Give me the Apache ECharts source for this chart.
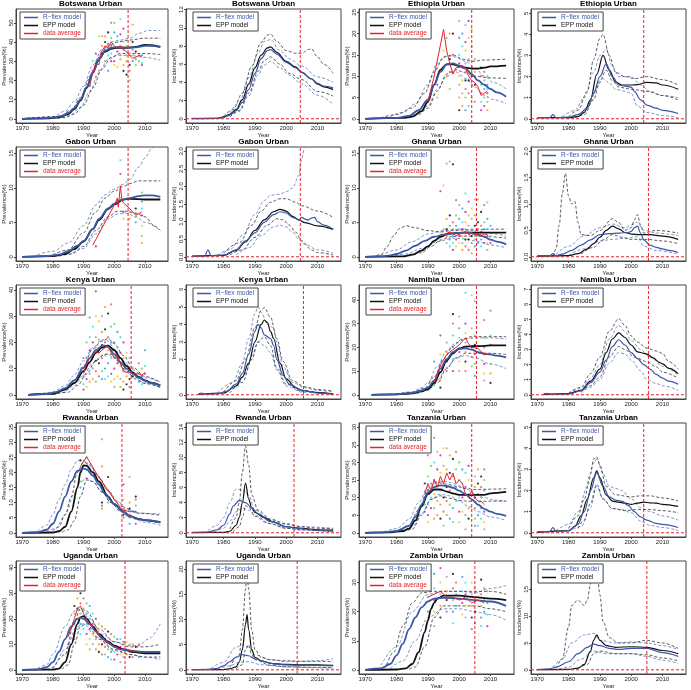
<!DOCTYPE html>
<html><head><meta charset="utf-8">
<script src="https://cdn.jsdelivr.net/npm/echarts@6/dist/echarts.min.js"></script>
<style>html,body{margin:0;padding:0;background:#fff}#c{width:691px;height:690px}</style>
</head><body><div id="c"></div>
<script>
// ---------------- panel descriptors ----------------
const panelTitles = ['Botswana Urban','Botswana Urban','Ethiopia Urban','Ethiopia Urban',
  'Gabon Urban','Gabon Urban','Ghana Urban','Ghana Urban',
  'Kenya Urban','Kenya Urban','Namibia Urban','Namibia Urban',
  'Rwanda Urban','Rwanda Urban','Tanzania Urban','Tanzania Urban',
  'Uganda Urban','Uganda Urban','Zambia Urban','Zambia Urban'];
const panelKinds = ['prev','inc','prev','inc','prev','inc','prev','inc','prev','inc',
  'prev','inc','prev','inc','prev','inc','prev','inc','prev','inc'];
const panelYRange = [55,11.6,24.8,5.0,15.3,3.0,15.3,2.0,40.3,6.0,44.5,7.0,35,14,30,5.0,41,20.8,36,19.5];
const panelYTicks = [
  ['0','10','20','30','40','50'], ['0','2','4','6','8','10','12'],
  ['0','5','10','15','20','25'], ['0','1','2','3','4','5'],
  ['0','5','10','15'], ['0.0','0.5','1.0','1.5','2.0','2.5','3.0'],
  ['0','5','10','15'], ['0.0','0.5','1.0','1.5','2.0'],
  ['0','10','20','30','40'], ['0','1','2','3','4','5','6'],
  ['0','10','20','30','40'], ['0','1','2','3','4','5','6','7'],
  ['0','5','10','15','20','25','30','35'], ['0','2','4','6','8','10','12','14'],
  ['0','5','10','15','20','25','30'], ['0','1','2','3','4','5'],
  ['0','10','20','30','40'], ['0','5','10','15','20'],
  ['0','10','20','30'], ['0','5','10','15']];
const panelVline = [2004.5,2004.5,2004,2004,2004.5,2004.5,2005.5,2005.5,2005.5,2005.5,
  2005.5,2005.5,2002.5,2002.5,2004,2004,2003.5,2003.5,2005,2005];
const xTickLabels = ['1970','1980','1990','2000','2010'];

// ---------------- Botswana ----------------
const bwPRflex = [[1970,0],[1976,0.2],[1980,0.6],[1983,1.5],[1985,3],[1987,5.5],[1989,10],[1991,16.5],[1993,24],[1995,31],[1997,35.5],[1999,37],[2001,37.3],[2004,37],[2007,37.2],[2010,38],[2012,38],[2015,37.5]];
const bwPEpp = [[1970,0],[1978,0.2],[1982,0.8],[1985,2.5],[1987,5],[1989,9.5],[1991,16],[1993,24],[1995,31],[1997,35],[1999,36.5],[2001,37],[2004,37],[2007,37.5],[2010,38.5],[2012,38.3],[2015,37.5]];
const bwPRflexHi = [[1970,0],[1980,1],[1984,4],[1987,9],[1990,17],[1993,28],[1996,36],[1999,40],[2002,41],[2005,42],[2008,44.5],[2011,46],[2015,46]];
const bwPRflexLo = [[1970,0],[1982,0.4],[1986,2],[1989,6],[1992,14],[1995,24],[1998,31],[2001,33],[2005,33],[2010,32],[2015,30.5]];
const bwPEppHi = [[1970,0],[1982,1.2],[1986,4.5],[1989,11],[1992,21],[1995,32],[1998,38],[2001,40],[2005,41],[2010,42],[2015,42]];
const bwPEppLo = [[1970,0],[1984,0.6],[1987,2.5],[1990,7],[1993,16],[1996,26],[1999,32],[2002,34],[2006,34],[2010,34],[2015,33.5]];
const bwPAvg = [[1992,17],[1993,24],[1994,29],[1995,28],[1995.5,34],[1996,33],[1997,38],[1998,37],[1999,40],[2000,38],[2001,37],[2002,38],[2003,36],[2004,35],[2005,33],[2006,31.5],[2007,32],[2008,33],[2009,32.5]];
const bwPPts = [[1992,[17,22]],[1993,[30,25]],[1994,[34,27,22]],[1995,[43,30,25]],[1996,[43,38,34]],[1997,[43,40,37,30]],[1998,[45,39,36,25,33]],[1999,[50,42,38,34,30]],[2000,[50,45,37,30,28]],[2001,[43,40,35,27]],[2002,[52,44,38,33,31]],[2003,[47,40,36,28,25]],[2004,[38,33,30,23]],[2005,[37,34,28,25,20]],[2006,[49,40,36,33,30]],[2007,[35,31,28]],[2008,[33,30]],[2009,[38,33,29,28]]];
const bwIRflex = [[1970,0.05],[1978,0.05],[1980,0.15],[1982,0.4],[1984,0.9],[1986,1.8],[1988,3.2],[1990,5],[1992,6.6],[1994,7.5],[1995,7.6],[1997,7.1],[2000,6.2],[2003,5.6],[2005,5.1],[2008,4.4],[2010,3.9],[2012,3.6],[2015,3.4]];
const bwIEpp = [[1970,0.02],[1978,0.05],[1980,0.2],[1982,0.5],[1984,1.0],[1986,2.1],[1988,3.8],[1990,5.6],[1992,7.0],[1994,7.8],[1995,7.9],[1997,7.3],[2000,6.3],[2003,5.7],[2005,5.1],[2008,4.4],[2010,3.8],[2012,3.5],[2015,3.2]];
const bwIRflexHi = [[1982,0.6],[1985,1.8],[1988,4.5],[1991,7.2],[1993,8.5],[1995,8.7],[1998,7.5],[2001,6.6],[2005,5.8],[2010,4.6],[2015,4.0]];
const bwIRflexLo = [[1982,0.2],[1985,0.8],[1988,2.5],[1991,4.8],[1993,5.9],[1995,6.3],[1998,5.6],[2001,4.8],[2005,3.8],[2010,2.6],[2015,1.6]];
const bwIEppHi = [[1980,0.3],[1983,1.0],[1986,2.8],[1989,5.8],[1992,8.4],[1994,9.2],[1995,9.3],[1997,8.5],[2000,7.5],[2003,7.2],[2005,7.2],[2007,7.6],[2008,7.7],[2010,6.8],[2012,6],[2015,5.0]];
const bwIEppLo = [[1982,0.2],[1985,0.9],[1988,2.8],[1991,5.2],[1993,6.4],[1995,6.8],[1998,6.0],[2001,5.0],[2005,4.3],[2010,3.0],[2015,2.5]];

// ---------------- Ethiopia ----------------
const etPRflex = [[1970,0],[1980,0.2],[1984,0.7],[1987,2],[1990,4.5],[1992,8],[1994,11],[1996,12.8],[1998,13],[2000,12.5],[2002,11.8],[2004,10.5],[2006,9],[2008,8],[2010,7],[2012,6.2],[2015,5.2]];
const etPEpp = [[1970,0],[1982,0.2],[1985,0.5],[1988,1.8],[1990,4],[1992,8],[1994,11.5],[1996,12.8],[1998,12.8],[2000,12.4],[2002,12],[2004,11.8],[2006,11.8],[2008,12],[2010,12.3],[2015,12.5]];
const etPRflexHi = [[1978,0.5],[1982,1.5],[1986,3.5],[1990,8],[1993,13],[1996,14.8],[1999,14.5],[2002,13.5],[2005,12],[2008,10],[2011,8.5],[2015,7]];
const etPRflexLo = [[1982,0.2],[1986,1],[1990,3],[1993,7],[1996,10],[1999,11],[2002,9.5],[2005,7.5],[2008,5.5],[2011,4.5],[2015,3.5]];
const etPEppHi = [[1975,0.2],[1980,1],[1985,2.5],[1989,6],[1992,11],[1995,14.5],[1998,15],[2001,14],[2004,13.5],[2008,13.8],[2015,14]];
const etPEppLo = [[1984,0.2],[1987,1],[1990,2.5],[1993,6.5],[1996,10.5],[1999,11.5],[2002,10.8],[2005,10],[2010,9.6],[2015,9.5]];
const etPAvg = [[1990,4],[1992,10],[1995,21],[1996,16],[1997,13],[1998,10.5],[1999,12],[2000,12],[2001,12.5],[2002,12],[2003,10],[2004,9],[2005,8.5],[2006,7.5],[2007,5.5],[2008,6],[2009,6.5]];
const etPPts = [[1993,[5,8]],[1995,[16,12]],[1996,[19,10]],[1997,[20,14,11,7]],[1998,[20,15,11]],[2000,[23,19,15,13,10,8,5,2]],[2001,[20,17,12,9,6,3]],[2002,[22,18,16,13,11,9,7,5,2]],[2003,[23,19,14,11,9,6,3]],[2004,[21,17,12,10,8,5]],[2005,[14,11,8,4]],[2007,[12,10,8,6,4,2]],[2008,[11,9,7,5,3]],[2009,[10,8,7,6,5,4,2]]];
const etIRflex = [[1970,0.05],[1974,0.05],[1975,0.2],[1976,0.05],[1980,0.08],[1983,0.2],[1986,0.5],[1988,1.2],[1990,2.0],[1992,2.6],[1994,2.0],[1996,1.6],[1998,1.55],[2000,1.5],[2001,1.3],[2003,0.9],[2005,0.65],[2008,0.5],[2010,0.4],[2015,0.25]];
const etIEpp = [[1970,0.05],[1980,0.05],[1983,0.1],[1985,0.3],[1987,0.9],[1989,2.1],[1991,3.0],[1993,2.3],[1995,1.75],[1997,1.6],[2000,1.6],[2002,1.62],[2005,1.72],[2008,1.7],[2010,1.6],[2015,1.4]];
const etIRflexHi = [[1978,0.1],[1982,0.4],[1985,1.0],[1988,2.2],[1990,3.0],[1992,3.3],[1994,2.5],[1996,2.0],[2000,2.0],[2003,1.6],[2006,1.3],[2010,1.1],[2015,1.0]];
const etIRflexLo = [[1980,0.02],[1984,0.2],[1987,0.8],[1989,1.5],[1991,1.9],[1993,1.7],[1995,1.4],[1998,1.3],[2000,1.2],[2002,0.6],[2005,0.3],[2010,0.15],[2015,0.05]];
const etIEppHi = [[1980,0.1],[1983,0.4],[1986,1.3],[1988,2.8],[1990,3.8],[1991,4.0],[1993,3.0],[1995,2.2],[1998,2.0],[2001,1.9],[2005,2.0],[2010,1.85],[2015,1.6]];
const etIEppLo = [[1982,0.05],[1985,0.2],[1988,0.9],[1990,1.8],[1992,2.3],[1994,1.8],[1996,1.5],[2000,1.4],[2005,1.3],[2010,1.1],[2015,0.9]];

// ---------------- Gabon ----------------
const gaPRflex = [[1970,0],[1978,0.1],[1982,0.3],[1985,0.8],[1988,1.6],[1990,2.3],[1993,4],[1995,5.5],[1998,7],[2000,7.7],[2002,8.2],[2005,8.5],[2008,8.8],[2010,8.9],[2012,8.9],[2015,8.7]];
const gaPEpp = [[1970,0],[1980,0.1],[1984,0.4],[1987,1.1],[1990,2.2],[1993,4],[1995,5.3],[1998,6.9],[2000,7.6],[2003,8.3],[2005,8.4],[2010,8.3],[2015,8.3]];
const gaPRflexHi = [[1975,0.3],[1980,0.8],[1985,2],[1990,4.5],[1994,7.5],[1997,9],[2000,9.8],[2003,10.5],[2005,11.2],[2008,13],[2010,14.3],[2012,15.6],[2014,17]];
const gaPRflexLo = [[1980,0.1],[1985,0.4],[1990,1.2],[1994,3.3],[1998,5.5],[2001,6.2],[2004,6.3],[2007,5.8],[2010,5.0],[2015,3.8]];
const gaPEppHi = [[1980,0.3],[1985,1],[1990,3.5],[1994,6.5],[1997,8.5],[2000,9.5],[2003,10.2],[2005,10.6],[2008,11],[2015,11]];
const gaPEppLo = [[1982,0.1],[1986,0.4],[1990,1.5],[1994,3.8],[1998,5.8],[2001,6.6],[2004,6.6],[2007,6.3],[2010,5.8],[2013,4.5],[2015,3.8]];
const gaPAvg = [[1993,1.7],[1994,2.5],[1997,5],[2000,7.5],[2001,8.5],[2001.3,7.2],[2002,10.3],[2002.5,8.2],[2003,7.8],[2005,7],[2007,6],[2009,6.5]];
const gaPPts = [[1994,[1.5]],[2002,[14,12,8.5]],[2003,[6.5,5.5]],[2005,[6.5,5.5]],[2007,[7,6.3,5.8,5]],[2009,[9.3,8,7,6,4.5,3,2]]];
const gaIRflex = [[1970,0.02],[1974,0.02],[1975,0.2],[1976,0.03],[1980,0.05],[1984,0.2],[1987,0.45],[1990,0.68],[1993,0.98],[1996,1.2],[1998,1.28],[2000,1.25],[2002,1.12],[2004,1.05],[2005,1.12],[2006,1.07],[2007,1.04],[2008,1.1],[2009,1.12],[2010,1.0],[2012,0.9],[2015,0.78]];
const gaIEpp = [[1970,0.02],[1980,0.04],[1984,0.18],[1987,0.42],[1990,0.75],[1993,1.05],[1996,1.28],[1998,1.35],[2000,1.3],[2002,1.15],[2004,1.05],[2006,0.97],[2010,0.88],[2015,0.78]];
const gaIRflexHi = [[1978,0.05],[1982,0.2],[1986,0.6],[1990,1.2],[1993,1.6],[1995,1.75],[1998,1.78],[2000,1.85],[2002,1.95],[2004,2.3],[2005,2.8],[2006,3.3]];
const gaIRflexLo = [[1984,0.05],[1988,0.25],[1992,0.6],[1996,0.85],[1998,0.9],[2000,0.85],[2002,0.7],[2004,0.5],[2006,0.35],[2010,0.2],[2015,0.1]];
const gaIEppHi = [[1980,0.1],[1985,0.4],[1989,0.9],[1992,1.3],[1995,1.55],[1998,1.65],[2000,1.65],[2003,1.55],[2005,1.45],[2010,1.3],[2015,1.12]];
const gaIEppLo = [[1982,0.05],[1986,0.2],[1990,0.55],[1994,0.9],[1997,1.08],[1999,1.05],[2001,0.9],[2003,0.7],[2005,0.45],[2008,0.2],[2010,0.12],[2015,0.05]];

// ---------------- Ghana ----------------
const ghPRflex = [[1970,0],[1975,0.05],[1978,0.2],[1980,0.4],[1983,0.9],[1986,1.6],[1989,2.3],[1992,2.9],[1995,3.2],[1998,3.4],[2001,3.5],[2003,3.5],[2006,3.2],[2008,2.9],[2010,2.5],[2012,2.2],[2015,1.8]];
const ghPEpp = [[1970,0],[1982,0.05],[1985,0.3],[1988,0.9],[1990,1.5],[1992,2.3],[1994,2.9],[1996,3.3],[1998,3.4],[2002,3.5],[2006,3.5],[2010,3.5],[2015,3.5]];
const ghPRflexHi = [[1975,0.2],[1980,1],[1985,2.2],[1990,3.3],[1995,3.8],[2000,4.0],[2005,3.8],[2010,3.4],[2015,3.0]];
const ghPRflexLo = [[1978,0.05],[1983,0.4],[1988,1.2],[1993,2.2],[1998,2.7],[2002,2.6],[2006,2.2],[2010,1.7],[2015,1.3]];
const ghPEppHi = [[1972,0],[1975,0.3],[1977,1.5],[1979,3],[1981,4.1],[1983,4.5],[1986,4.2],[1990,3.8],[1994,3.6],[1998,3.8],[2002,3.9],[2006,3.9],[2010,4.0],[2015,4.0]];
const ghPEppLo = [[1984,0.1],[1988,0.6],[1991,1.5],[1994,2.4],[1997,2.9],[2000,3.0],[2005,3.0],[2010,2.9],[2015,2.7]];
const ghPAvg = [[1995,3.2],[1997,3.6],[1999,3.1],[2001,3.4],[2002,3.7],[2003,3.2],[2004,3.4],[2005,3.2],[2006,3.4],[2007,3.1],[2008,3.3],[2009,3.2]];
const ghPPts = [[1994,[9.5,3.5,2.5]],[1995,[10.3,4,3]],[1996,[13.5,5.5,4,3,2]],[1997,[13.8,6,4.5,3.5,2.5,1.5]],[1998,[13.4,5,4,3,2,1]],[1999,[8.2,6,4.5,3.5,2.5,1.5]],[2000,[7.5,5.5,4,3,2]],[2001,[7,5,4,3,2,1]],[2002,[9.2,6.5,5,4,3,2.5,1.5]],[2003,[8,6,4.5,3.5,2.5,1]],[2004,[7,5.5,4,3,2,0.5]],[2005,[8.3,6,4.5,3.5,2.5,1.5]],[2006,[8.3,5,4,3,2]],[2007,[6.5,4.5,3.5,2.5,1.5]],[2008,[7.5,5,4,3,2]],[2009,[7.9,5.5,4,3,2,1]],[2010,[4.5,3,2]]];
const ghIRflex = [[1970,0.02],[1974,0.02],[1975,0.06],[1976,0.02],[1978,0.05],[1981,0.12],[1984,0.22],[1987,0.32],[1990,0.42],[1993,0.44],[1996,0.45],[1999,0.46],[2000,0.48],[2001,0.55],[2002,0.58],[2003,0.45],[2004,0.32],[2006,0.22],[2008,0.18],[2010,0.15],[2012,0.12],[2015,0.08]];
const ghIEpp = [[1970,0.01],[1980,0.02],[1983,0.06],[1986,0.15],[1988,0.25],[1990,0.37],[1992,0.5],[1994,0.58],[1996,0.53],[1998,0.46],[2000,0.43],[2003,0.42],[2006,0.42],[2010,0.39],[2015,0.33]];
const ghIRflexHi = [[1976,0.05],[1980,0.2],[1985,0.4],[1990,0.55],[1994,0.62],[1998,0.55],[2000,0.6],[2002,0.65],[2004,0.5],[2008,0.45],[2015,0.4]];
const ghIRflexLo = [[1980,0.03],[1985,0.15],[1990,0.3],[1994,0.33],[1998,0.35],[2002,0.38],[2004,0.2],[2008,0.12],[2015,0.05]];
const ghIEppHi = [[1970,0.01],[1975,0.02],[1976,0.15],[1977,0.6],[1978,1.2],[1979,1.58],[1980,1.15],[1981,1.0],[1982,1.05],[1983,0.65],[1984,0.42],[1987,0.4],[1990,0.5],[1994,0.72],[1996,0.65],[1998,0.5],[2000,0.55],[2001,0.7],[2002,0.8],[2003,0.6],[2004,0.45],[2008,0.5],[2015,0.45]];
const ghIEppLo = [[1984,0.05],[1988,0.18],[1991,0.32],[1994,0.42],[1997,0.37],[2000,0.33],[2005,0.33],[2010,0.3],[2015,0.25]];

// ---------------- Kenya ----------------
const kePRflex = [[1972,0],[1978,0.3],[1981,1],[1984,2.5],[1987,5.5],[1990,10.4],[1992,14],[1994,17],[1996,18.7],[1997,18.8],[1998,18.2],[2000,15.5],[2002,12.5],[2004,10],[2006,8],[2008,6.5],[2010,5.3],[2012,4.5],[2015,3.5]];
const kePEpp = [[1972,0],[1980,0.4],[1984,2],[1987,4.5],[1990,9],[1992,12.5],[1994,16],[1996,18],[1998,18.8],[2000,17],[2002,14],[2004,11],[2006,8.5],[2008,6.8],[2010,5.5],[2012,4.6],[2015,3.5]];
const kePRflexHi = [[1975,0.2],[1980,1],[1984,3.5],[1987,7.5],[1990,13],[1993,18],[1996,21],[1998,20.5],[2000,17.5],[2003,13],[2006,9.5],[2010,6.5],[2015,4.8]];
const kePRflexLo = [[1978,0.1],[1983,0.8],[1987,3.5],[1990,7.5],[1993,12],[1996,15],[1998,15.5],[2000,14],[2003,10],[2006,7],[2010,4.5],[2015,2.8]];
const kePEppHi = [[1978,0.2],[1983,1.5],[1987,5.5],[1990,11],[1993,17.5],[1996,20.5],[1998,21.5],[2000,19.5],[2003,15],[2006,10.5],[2010,7],[2015,4.8]];
const kePEppLo = [[1980,0.1],[1985,1],[1988,3.5],[1991,8],[1994,13],[1997,15.5],[1999,15.5],[2001,13],[2004,9],[2007,6],[2010,4.3],[2015,2.8]];
const kePAvg = [[1990,8],[1991,12],[1992,14],[1993,15],[1994,16.5],[1995,16],[1996,17],[1997,18],[1998,18.5],[1999,16],[2000,14],[2001,15],[2002,12],[2003,9],[2004,8.5],[2005,9],[2006,8],[2008,8],[2009,7.5],[2010,8.5]];
const kePPts = [[1990,[14,10,7,4,2]],[1991,[20,14,10,6,3]],[1992,[29.5,22,17,12,8,5]],[1993,[26,20,15,10,6]],[1994,[39.5,30,22,18,13,9,5]],[1995,[28,21,16,12,7]],[1996,[30,24,19,14,9,6]],[1997,[33.5,25,20,15,10,6]],[1998,[31,22,17,12,7]],[1999,[34.5,26,20,14,8,5]],[2000,[27,20,15,10,6,3]],[2001,[24,18,12,7]],[2002,[22,16,11,6,3]],[2003,[20,14,9,5,2]],[2004,[16,11,7,4]],[2005,[14,9,6,3]],[2006,[10,7]],[2008,[12,8,5]],[2009,[10,7,4]],[2010,[17,11,8]]];
const keIRflex = [[1972,0.05],[1973,0.1],[1974,0.03],[1978,0.05],[1981,0.2],[1984,0.6],[1986,1.2],[1988,2.3],[1990,3.6],[1991,4.0],[1992,3.8],[1993,3.4],[1995,3.2],[1996,2.8],[1997,2.0],[1999,1.1],[2001,0.6],[2005,0.25],[2010,0.1],[2015,0.05]];
const keIEpp = [[1972,0.02],[1980,0.1],[1984,0.5],[1986,1.0],[1988,1.8],[1990,3.0],[1992,4.0],[1993,4.25],[1994,4.1],[1995,3.6],[1996,3.2],[1998,1.8],[2000,0.9],[2003,0.4],[2005,0.25],[2010,0.12],[2015,0.05]];
const keIRflexHi = [[1978,0.1],[1983,0.7],[1986,1.8],[1988,3.2],[1990,4.6],[1991,5.0],[1992,4.7],[1994,4.0],[1996,3.8],[1997,3.0],[1999,1.6],[2002,0.7],[2006,0.4],[2010,0.25],[2015,0.15]];
const keIRflexLo = [[1980,0.05],[1984,0.4],[1987,1.2],[1989,2.2],[1991,3.0],[1993,2.8],[1995,2.4],[1997,1.4],[2000,0.5],[2005,0.15],[2015,0.02]];
const keIEppHi = [[1980,0.15],[1984,0.8],[1987,2.0],[1990,3.8],[1992,4.8],[1993,4.95],[1995,4.4],[1997,3.2],[1999,1.9],[2002,0.8],[2006,0.45],[2010,0.3],[2015,0.2]];
const keIEppLo = [[1982,0.1],[1986,0.7],[1989,2.0],[1991,3.0],[1993,3.3],[1995,2.8],[1997,1.5],[2000,0.6],[2005,0.2],[2015,0.03]];

// ---------------- Namibia ----------------
const naPRflex = [[1972,0],[1980,0.2],[1985,0.8],[1988,1.8],[1990,3],[1992,6],[1994,11],[1996,15],[1998,18],[2000,19.3],[2002,19.6],[2004,19],[2006,18],[2008,17.3],[2010,17],[2012,16.5],[2015,15.8]];
const naPEpp = [[1972,0],[1980,0.2],[1985,0.6],[1988,1.5],[1990,2.4],[1992,5],[1994,9.5],[1996,14.5],[1998,17.5],[2000,19.5],[2002,20.3],[2004,20.5],[2006,20.5],[2010,20.8],[2015,20.8]];
const naPRflexHi = [[1980,0.4],[1985,1.3],[1988,3],[1990,5],[1993,12],[1996,18.5],[1999,22],[2002,23.5],[2005,24],[2010,24],[2015,23.5]];
const naPRflexLo = [[1982,0.1],[1986,0.5],[1990,2],[1993,6],[1996,11.5],[1999,15.5],[2002,16.5],[2005,15.5],[2010,13],[2015,11]];
const naPEppHi = [[1980,0.3],[1985,1],[1989,2.8],[1992,7.5],[1995,15],[1998,20.5],[2001,23.5],[2004,24.5],[2008,24.5],[2015,24.5]];
const naPEppLo = [[1983,0.2],[1987,0.8],[1990,2],[1993,5],[1996,11],[1999,15.5],[2002,17.5],[2005,17.5],[2010,17.5],[2015,17]];
const naPAvg = [[1992,5.5],[1994,12.5],[1996,17],[1998,19],[2000,21],[2002,24],[2003,21.5],[2004,20],[2006,19.5],[2008,17],[2009,17]];
const naPPts = [[1992,[14,4]],[1994,[25,17,12,6,3]],[1996,[22,18,14,10]],[1998,[34,30,25,20,15,10]],[2000,[33,28,24,18,14,10]],[2002,[43,30,26,22,18,14,10]],[2004,[42,28,24,20,16,12]],[2005,[39.5,25,21,17,13,8]],[2008,[31.5,24,20,17,13,9,6]],[2010,[35.5,25,21,17,13,9,5]]];
const naIRflex = [[1972,0.05],[1973,0.1],[1975,0.03],[1980,0.05],[1984,0.25],[1987,0.8],[1990,1.5],[1992,2.3],[1994,3.2],[1996,3.65],[1998,3.3],[2000,2.8],[2002,2.4],[2004,2.0],[2006,1.7],[2008,1.35],[2010,1.1],[2012,0.9],[2015,0.7]];
const naIEpp = [[1972,0.02],[1980,0.08],[1984,0.3],[1987,0.9],[1990,1.7],[1992,2.8],[1994,3.7],[1996,4.1],[1998,3.8],[2000,3.3],[2002,2.85],[2004,2.75],[2005,2.7],[2007,2.45],[2009,2.15],[2010,2.05],[2012,1.75],[2015,1.4]];
const naIRflexHi = [[1980,0.1],[1984,0.4],[1987,1.1],[1990,2.0],[1993,3.7],[1996,4.6],[1998,4.2],[2000,3.6],[2003,3.0],[2006,2.5],[2010,1.9],[2015,1.3]];
const naIRflexLo = [[1984,0.1],[1987,0.5],[1990,1.0],[1993,2.1],[1996,2.8],[1998,2.7],[2000,2.3],[2003,1.6],[2005,1.0],[2008,0.75],[2010,0.6],[2015,0.3]];
const naIEppHi = [[1980,0.1],[1984,0.5],[1987,1.4],[1990,2.5],[1993,4.2],[1996,5.05],[1998,4.6],[2000,3.9],[2002,3.5],[2005,3.1],[2008,2.9],[2010,2.75],[2012,2.2],[2015,1.7]];
const naIEppLo = [[1984,0.2],[1987,0.6],[1990,1.2],[1993,2.5],[1996,3.2],[1998,3.0],[2001,2.5],[2005,2.2],[2008,1.85],[2010,1.5],[2015,1.1]];

// ---------------- Rwanda ----------------
const rwPRflex = [[1970,0],[1975,0.2],[1978,1],[1980,3],[1982,7],[1984,12],[1986,17],[1988,20.5],[1990,21.3],[1991,21],[1993,19],[1995,16],[1997,13],[2000,9.5],[2003,7],[2005,5.5],[2008,4.5],[2010,4.2],[2015,3.5]];
const rwPEpp = [[1970,0],[1980,0.1],[1982,0.5],[1984,2],[1986,7],[1988,15],[1989,20],[1990,22.3],[1991,22.2],[1993,20],[1995,17],[1998,12],[2000,9.5],[2003,7],[2005,5.5],[2008,4.6],[2010,4.2],[2015,3.5]];
const rwPRflexHi = [[1975,0.5],[1978,2.5],[1980,6],[1982,11],[1984,16],[1986,21],[1988,24],[1990,24],[1992,22],[1995,18],[1998,14],[2001,10],[2004,7.5],[2008,6.5],[2015,6.2]];
const rwPRflexLo = [[1978,0.3],[1981,1.5],[1984,6],[1987,13],[1989,17],[1991,18],[1993,17],[1996,13.5],[1999,10],[2002,7],[2005,5],[2010,3.5],[2015,2.5]];
const rwPEppHi = [[1980,0.5],[1982,2],[1984,6],[1986,12],[1988,20],[1990,23.5],[1992,22.5],[1995,18.5],[1998,14],[2001,10.5],[2004,8],[2008,6.5],[2015,5.8]];
const rwPEppLo = [[1983,0.2],[1985,1],[1987,4],[1989,12],[1991,17.5],[1993,17],[1996,13.5],[1999,10],[2002,7.2],[2005,5.5],[2010,4],[2015,3.2]];
const rwPAvg = [[1989,22],[1991,25.2],[1994,20],[1996,17],[1998,14],[2000,11],[2002,8.5],[2003,7.5],[2005,7],[2007,7]];
const rwPPts = [[1989,[24,20,17,15]],[1991,[25,23,21,18]],[1996,[31,22,10,9,8]],[1998,[18.5,14,10]],[2003,[16,11,8,7,6,5]],[2005,[18.5,10,8,6,5,3]],[2007,[12,11,9,7,5,3]]];
const rwIRflex = [[1970,0.05],[1975,0.1],[1978,0.4],[1980,1.0],[1982,2.5],[1983,3.5],[1985,4.3],[1987,4.0],[1989,3.3],[1991,2.5],[1995,1.5],[2000,0.8],[2005,0.5],[2010,0.3],[2015,0.2]];
const rwIEpp = [[1970,0.02],[1980,0.05],[1982,0.2],[1984,1.0],[1985,2.0],[1986,4.0],[1987,6.6],[1988,4.5],[1989,3.3],[1990,2.7],[1993,2.0],[1996,1.4],[2000,0.8],[2005,0.6],[2010,0.4],[2015,0.35]];
const rwIRflexHi = [[1975,0.3],[1978,1],[1980,2],[1982,4],[1984,5.8],[1986,5.7],[1988,5],[1990,3],[1995,1.7],[2000,1.1],[2005,0.8],[2015,0.6]];
const rwIRflexLo = [[1977,0.1],[1980,0.6],[1982,1.5],[1984,2.8],[1986,3.3],[1988,3.0],[1990,2.3],[1995,1.2],[2000,0.6],[2005,0.35],[2015,0.15]];
const rwIEppHi = [[1982,0.5],[1984,2],[1985,4],[1986,8],[1987,11.5],[1988,9],[1989,5],[1991,3],[1995,1.8],[2000,1.2],[2005,0.8],[2010,0.6],[2015,0.5]];
const rwIEppLo = [[1983,0.1],[1985,0.8],[1986,2],[1987,3.6],[1988,3.4],[1990,2.2],[1994,1.3],[2000,0.6],[2005,0.4],[2015,0.2]];

// ---------------- Tanzania ----------------
const taPRflex = [[1970,0],[1976,0.1],[1980,0.5],[1984,2],[1986,4.5],[1988,8],[1990,11.5],[1992,13],[1994,13.5],[1996,13.3],[1998,12.8],[2000,12],[2002,11],[2004,9.5],[2006,8],[2008,6.8],[2010,6],[2012,5.4],[2015,4.8]];
const taPEpp = [[1970,0],[1978,0.1],[1982,0.5],[1984,1.2],[1986,3.5],[1988,7.5],[1990,11],[1992,12.3],[1994,12.3],[1996,11.7],[1998,11.2],[2000,10.8],[2002,10.8],[2004,10.7],[2006,10.8],[2008,10.8],[2010,11.2],[2015,11.6]];
const taPRflexHi = [[1976,0.3],[1980,1.2],[1984,3.8],[1987,8.5],[1990,13],[1993,14.7],[1996,14.5],[1999,13.8],[2002,12.5],[2005,11],[2008,10],[2011,9.3],[2015,9]];
const taPRflexLo = [[1978,0.1],[1982,0.5],[1985,1.8],[1988,5.5],[1991,9.5],[1994,11],[1997,10.5],[2000,9],[2003,7.5],[2006,6],[2010,4.5],[2015,3.5]];
const taPEppHi = [[1980,0.2],[1984,1.8],[1987,6.5],[1990,12.3],[1993,14.3],[1996,13.8],[1999,13.2],[2002,12.6],[2005,12.3],[2010,12.4],[2015,12.5]];
const taPEppLo = [[1982,0.2],[1985,1],[1988,5],[1991,9.5],[1994,10.5],[1997,9.8],[2000,9.2],[2003,9],[2006,8.8],[2010,9],[2015,9]];
const taPAvg = [[1989,11],[1990,14],[1991,12],[1992,15],[1993,13],[1994,16],[1995,14],[1996,17],[1997,15],[1998,17],[1999,14],[2000,15],[2001,14],[2002,11],[2003,10],[2004,12],[2005,10],[2006,9],[2007,9],[2008,8]];
const taPPts = [[1989,[14,10,8,6]],[1990,[22,16,12,8,5,3]],[1991,[19,14,10,7]],[1992,[27,20,15,11,7,4]],[1993,[23,18,13,9,5]],[1994,[22,17,12,8,4]],[1995,[24,19,14,10,6,2]],[1996,[24,18,13,9,5]],[1997,[22,17,12,8,4]],[1998,[21,16,11,7,3]],[1999,[23,18,13,9]],[2000,[20,15,10,6,3]],[2001,[18,14,10,6]],[2002,[17,13,9,5,1]],[2003,[19,15,11,7,4]],[2005,[16,13,10,7,4,2]],[2006,[18,14,11,8,5,2]],[2007,[16,13,10,7,4]],[2008,[18,15,12,9,6,3,1]]];
const taIRflex = [[1970,0.05],[1974,0.05],[1975,0.25],[1976,0.05],[1980,0.1],[1983,0.4],[1985,1.0],[1987,2.0],[1989,2.85],[1991,2.2],[1993,1.7],[1995,1.55],[1997,1.5],[1999,1.3],[2001,1.0],[2003,0.75],[2005,0.6],[2008,0.45],[2010,0.4],[2015,0.25]];
const taIEpp = [[1970,0.02],[1980,0.1],[1982,0.3],[1984,0.8],[1986,1.6],[1988,2.6],[1989,2.93],[1990,2.6],[1992,1.8],[1994,1.5],[1996,1.45],[1998,1.4],[2000,1.35],[2002,1.4],[2004,1.45],[2006,1.42],[2008,1.4],[2010,1.35],[2015,1.25]];
const taIRflexHi = [[1976,0.1],[1980,0.4],[1983,1.0],[1986,2.2],[1988,3.3],[1989,3.5],[1991,2.8],[1993,2.2],[1995,2.1],[1997,2.0],[2000,1.6],[2003,1.2],[2006,1.0],[2010,0.8],[2015,0.6]];
const taIRflexLo = [[1980,0.05],[1984,0.3],[1987,1.2],[1989,2.2],[1991,1.6],[1994,1.15],[1997,1.1],[2000,0.95],[2003,0.55],[2006,0.35],[2010,0.25],[2015,0.1]];
const taIEppHi = [[1980,0.2],[1983,0.8],[1985,1.6],[1987,2.8],[1988,3.5],[1989,3.6],[1990,3.2],[1992,2.2],[1995,1.8],[2000,1.7],[2003,1.75],[2006,1.75],[2010,1.65],[2015,1.5]];
const taIEppLo = [[1983,0.2],[1985,0.6],[1987,1.4],[1989,2.3],[1991,1.6],[1994,1.15],[1998,1.05],[2002,1.1],[2006,1.1],[2010,1.05],[2015,0.95]];

// ---------------- Uganda ----------------
const ugPRflex = [[1970,0],[1975,0.2],[1978,1],[1980,3],[1982,7],[1984,12],[1986,17],[1988,20],[1989,20.5],[1990,20],[1992,18],[1994,15],[1996,12.5],[1998,10.5],[2000,9],[2002,8],[2005,7.5],[2010,7],[2015,7]];
const ugPEpp = [[1970,0],[1980,0.1],[1982,0.5],[1984,3],[1986,10],[1988,18],[1989,20.5],[1990,21],[1991,20],[1993,17],[1995,14],[1998,11],[2000,9.5],[2003,8],[2006,7],[2010,6.5],[2015,6.5]];
const ugPRflexHi = [[1975,0.5],[1978,2],[1980,6],[1984,17],[1987,23],[1989,23.5],[1992,20],[1996,14],[2000,11],[2005,9.5],[2008,9.5],[2011,12],[2015,18]];
const ugPRflexLo = [[1978,0.2],[1980,1],[1984,8],[1988,17],[1990,18],[1994,13],[2000,7.5],[2005,6],[2010,5],[2015,4]];
const ugPEppHi = [[1980,0.5],[1984,6],[1987,19],[1989,24],[1991,23],[1995,16],[2000,11],[2005,9],[2010,9],[2015,10]];
const ugPEppLo = [[1983,0.2],[1985,2],[1987,10],[1989,17],[1991,18],[1995,12],[2000,8],[2005,6],[2010,5],[2015,5]];
const ugPAvg = [[1985,13],[1987,20],[1988,24],[1989,25],[1990,22],[1991,20],[1992,18],[1994,15],[1996,12],[1998,11],[2000,9],[2002,8],[2004,8],[2006,7.5],[2008,7]];
const ugPPts = [[1985,[10,15]],[1987,[18,22,25,12]],[1988,[28,24,20,16]],[1989,[30,26,22,18,14]],[1990,[28,24,20,16]],[1991,[26,22,18,14,10]],[1992,[25,20,16,12,8]],[1993,[22,18,14,10]],[1994,[20,16,12,8]],[1995,[18,14,10,7]],[1996,[17,13,10,6]],[1997,[16,12,9,6]],[1998,[15,11,8,5]],[1999,[14,10,7,4]],[2000,[13,9,7,4]],[2001,[12,9,6]],[2002,[12,9,6,3]],[2003,[11,8,5]],[2004,[11,8,6]],[2005,[10,7,5]],[2006,[10,7,5]],[2007,[9,7]],[2008,[10,7,5]]];
const ugIRflex = [[1970,0.05],[1975,0.1],[1978,0.3],[1980,0.8],[1982,1.6],[1984,2.5],[1986,3.0],[1988,2.8],[1990,2.2],[1993,1.6],[1996,1.2],[2000,1.0],[2005,0.9],[2010,0.9],[2015,0.8]];
const ugIEpp = [[1970,0.02],[1980,0.05],[1982,0.2],[1984,0.6],[1985,1.5],[1986,4],[1987,9],[1987.5,11],[1988,8],[1989,4],[1990,2.5],[1992,1.8],[1995,1.3],[2000,1.1],[2005,1.0],[2010,1.0],[2015,0.9]];
const ugIRflexHi = [[1976,0.3],[1980,1.5],[1984,4.5],[1986,5],[1988,4.5],[1990,3],[1995,2],[2000,1.6],[2005,1.7],[2010,1.8],[2015,2.2]];
const ugIRflexLo = [[1978,0.1],[1982,0.8],[1985,1.5],[1988,1.6],[1992,1.0],[2000,0.6],[2010,0.4],[2015,0.3]];
const ugIEppHi = [[1982,0.5],[1985,3],[1986,8],[1987,16],[1987.5,20],[1988,16],[1989,8],[1990,4],[1992,2.5],[1995,2],[2000,1.8],[2005,1.7],[2010,1.7],[2015,1.6]];
const ugIEppLo = [[1984,0.2],[1986,1],[1987,4],[1988,5],[1989,3],[1990,2],[1995,0.9],[2000,0.6],[2010,0.5],[2015,0.4]];

// ---------------- Zambia ----------------
const zaPRflex = [[1970,0],[1975,0.5],[1978,2],[1980,5],[1982,9],[1984,14],[1986,18],[1988,21.5],[1990,23.5],[1992,24.5],[1995,24.8],[2000,24.5],[2005,24],[2010,23.5],[2015,22]];
const zaPEpp = [[1970,0],[1980,0.1],[1983,0.5],[1985,2],[1987,6],[1989,13],[1990,17],[1991,21],[1992,23],[1993,24.5],[1995,25.5],[2000,25.5],[2005,25],[2010,24.5],[2015,24]];
const zaPRflexHi = [[1975,1.5],[1980,8],[1985,20],[1990,26],[1995,27],[2000,27],[2005,26.5],[2010,28],[2015,29]];
const zaPRflexLo = [[1978,0.5],[1982,3],[1986,10],[1990,18],[1995,21],[2000,21],[2005,20],[2010,19],[2015,17]];
const zaPEppHi = [[1974,0.2],[1976,1],[1979,6],[1982,15],[1985,23],[1988,26.5],[1992,27],[2000,27],[2005,27],[2010,27],[2015,26]];
const zaPEppLo = [[1984,0.2],[1986,1],[1989,8],[1992,18],[1995,22],[2000,22],[2005,22],[2010,21],[2015,20]];
const zaPAvg = [[1990,25],[1992,26],[1994,27],[1996,25],[1998,25],[2000,24],[2002,25],[2004,23],[2006,24],[2008,23]];
const zaPPts = [[1990,[30,25,20]],[1992,[33,28,24,20,15]],[1994,[35,30,26,22,18]],[1996,[32,27,24,20]],[1998,[33,28,24,20,16]],[1999,[30,26,22]],[2001,[32,27,23,19]],[2002,[30,26,22,18]],[2004,[30,26,22,18,14]],[2005,[28,24,20,16]],[2007,[31,26,22,18,15]],[2008,[28,24,20]],[2009,[27,23,19,15]]];
const zaIRflex = [[1970,0.05],[1974,0.2],[1976,0.5],[1980,1.5],[1983,3],[1986,4.2],[1988,4.8],[1990,4.5],[1993,4],[1996,3.8],[2000,4],[2005,4],[2010,3.2],[2015,2.5]];
const zaIEpp = [[1970,0.02],[1980,0.1],[1983,0.3],[1985,1],[1987,3.5],[1988,5.5],[1989,6.5],[1990,5.5],[1992,4.5],[1995,4.2],[2000,4.3],[2005,4.2],[2010,3.6],[2015,3.0]];
const zaIRflexHi = [[1975,0.5],[1978,2],[1981,5],[1985,6.5],[1988,6.8],[1990,5.5],[1995,5],[2000,5.2],[2005,5],[2010,4.5],[2015,3.8]];
const zaIRflexLo = [[1977,0.1],[1980,0.5],[1984,2],[1988,3.5],[1992,3],[2000,3],[2005,2.5],[2010,1.8],[2015,1.2]];
const zaIEppHi = [[1976,0.3],[1978,2],[1980,8],[1981,12],[1983,13],[1985,12],[1986,13],[1987,16],[1988,18.5],[1989,19],[1990,14],[1991,9],[1993,6],[1996,5],[2000,5],[2005,5.5],[2010,5],[2015,4]];
const zaIEppLo = [[1983,0.2],[1986,1],[1988,3],[1990,3.5],[1995,3],[2000,3],[2005,2.8],[2010,2.2],[2015,1.7]];

// ---------------- assemble ----------------
const P = [
 [bwPRflex,bwPEpp,bwPRflexHi,bwPRflexLo,bwPEppHi,bwPEppLo,bwPAvg,bwPPts],
 [bwIRflex,bwIEpp,bwIRflexHi,bwIRflexLo,bwIEppHi,bwIEppLo],
 [etPRflex,etPEpp,etPRflexHi,etPRflexLo,etPEppHi,etPEppLo,etPAvg,etPPts],
 [etIRflex,etIEpp,etIRflexHi,etIRflexLo,etIEppHi,etIEppLo],
 [gaPRflex,gaPEpp,gaPRflexHi,gaPRflexLo,gaPEppHi,gaPEppLo,gaPAvg,gaPPts],
 [gaIRflex,gaIEpp,gaIRflexHi,gaIRflexLo,gaIEppHi,gaIEppLo],
 [ghPRflex,ghPEpp,ghPRflexHi,ghPRflexLo,ghPEppHi,ghPEppLo,ghPAvg,ghPPts],
 [ghIRflex,ghIEpp,ghIRflexHi,ghIRflexLo,ghIEppHi,ghIEppLo],
 [kePRflex,kePEpp,kePRflexHi,kePRflexLo,kePEppHi,kePEppLo,kePAvg,kePPts],
 [keIRflex,keIEpp,keIRflexHi,keIRflexLo,keIEppHi,keIEppLo],
 [naPRflex,naPEpp,naPRflexHi,naPRflexLo,naPEppHi,naPEppLo,naPAvg,naPPts],
 [naIRflex,naIEpp,naIRflexHi,naIRflexLo,naIEppHi,naIEppLo],
 [rwPRflex,rwPEpp,rwPRflexHi,rwPRflexLo,rwPEppHi,rwPEppLo,rwPAvg,rwPPts],
 [rwIRflex,rwIEpp,rwIRflexHi,rwIRflexLo,rwIEppHi,rwIEppLo],
 [taPRflex,taPEpp,taPRflexHi,taPRflexLo,taPEppHi,taPEppLo,taPAvg,taPPts],
 [taIRflex,taIEpp,taIRflexHi,taIRflexLo,taIEppHi,taIEppLo],
 [ugPRflex,ugPEpp,ugPRflexHi,ugPRflexLo,ugPEppHi,ugPEppLo,ugPAvg,ugPPts],
 [ugIRflex,ugIEpp,ugIRflexHi,ugIRflexLo,ugIEppHi,ugIEppLo],
 [zaPRflex,zaPEpp,zaPRflexHi,zaPRflexLo,zaPEppHi,zaPEppLo,zaPAvg,zaPPts],
 [zaIRflex,zaIEpp,zaIRflexHi,zaIRflexLo,zaIEppHi,zaIEppLo]
];

const BLUE = '#3A58A8', BLUE_D = '#5B79C0', BLACK = '#111', GREY_D = '#333', RED = '#E8202A';
const PAL = ['#000000','#DF536B','#61D04F','#2297E6','#28E2E5','#CD0BBC','#F5C710','#9E9E9E','#FF8C00'];
const FONT = '"Liberation Sans", Arial, Helvetica, sans-serif';
const colW = 691/4, rowH = 138;
const xVals = xTickLabels.map(Number);
const X_MIN = 1968, X_MAX = 2017.5;

const option = {animation:false, textStyle:{fontFamily:FONT}, title:[], grid:[], xAxis:[], yAxis:[], legend:[], series:[]};

P.forEach((arr, i) => {
  const r = Math.floor(i/4), c = i % 4;
  const x0 = Math.round(c*colW), y0 = r*rowH;
  const gl = x0 + 13, gt = y0 + 9, gw = 155, gh = 114;
  const isPrev = panelKinds[i] === 'prev';
  const R = panelYRange[i];
  const yMin = -0.04*R, yMax = 1.04*R;
  const yLab = panelYTicks[i], yVals = yLab.map(Number);

  option.grid.push({left:gl, top:gt, width:gw, height:gh, show:true, borderColor:'#444', borderWidth:1, backgroundColor:'rgba(0,0,0,0)'});
  option.title.push({text:panelTitles[i], left:gl+gw/2, top:y0, padding:0, textAlign:'center',
    textStyle:{fontSize:8, lineHeight:8, fontWeight:'bold', color:'#000', fontFamily:FONT}});
  option.xAxis.push({gridIndex:i, type:'value', min:X_MIN, max:X_MAX,
    axisLine:{show:true, onZero:false, lineStyle:{color:'#444', width:1}},
    splitLine:{show:false},
    axisTick:{show:true, length:2, lineStyle:{color:'#444'}, customValues:xVals},
    axisLabel:{fontSize:6, margin:2, color:'#222', customValues:xVals, formatter:v=>String(v)},
    name:'Year', nameLocation:'middle', nameGap:9, nameTextStyle:{fontSize:6, color:'#222'}});
  option.yAxis.push({gridIndex:i, type:'value', min:yMin, max:yMax,
    axisLine:{show:true, onZero:false, lineStyle:{color:'#444', width:1}},
    splitLine:{show:false},
    axisTick:{show:true, length:2, lineStyle:{color:'#444'}, customValues:yVals},
    axisLabel:{fontSize:6, margin:2, color:'#222', rotate:90, customValues:yVals,
      formatter:v=>{const k=yVals.indexOf(v); return k>=0?yLab[k]:String(v);}},
    name: isPrev ? 'Prevalence(%)' : 'Incidence(%)', nameLocation:'middle', nameGap:9, nameRotate:90,
    nameTextStyle:{fontSize:6, color:'#222'}});

  const legendData = [
    {name:'R\u2212flex model', icon:'rect', itemStyle:{color:BLUE}, textStyle:{color:BLUE}},
    {name:'EPP model', icon:'rect', itemStyle:{color:BLACK}, textStyle:{color:'#111'}}
  ];
  if (isPrev) legendData.push({name:'data average', icon:'rect', itemStyle:{color:RED}, textStyle:{color:RED}});
  option.legend.push({orient:'vertical', left:gl+7, top:gt+3, padding:[2,4,2,4], itemGap:1,
    itemWidth:14, itemHeight:1.5, borderColor:'#444', borderWidth:1, backgroundColor:'#fff',
    textStyle:{fontSize:6.5, fontFamily:FONT}, selectedMode:false, data:legendData});

  const wMain = isPrev ? 1.8 : 1.2;
  const line = (name, data, color, width, dashed, smooth, z) => ({
    type:'line', name, xAxisIndex:i, yAxisIndex:i, data, showSymbol:false, symbol:'none',
    smooth: smooth ? 0.35 : false, smoothMonotone: smooth ? 'x' : undefined,
    lineStyle:{color, width, type: dashed ? [3,2] : 'solid', opacity:1}, itemStyle:{color}, silent:true, z, clip:true
  });

  option.series.push(line('R\u2212flex bound', arr[2], BLUE_D, 0.8, true, true, 2));
  option.series.push(line('R\u2212flex bound', arr[3], BLUE_D, 0.8, true, true, 2));
  option.series.push(line('EPP bound', arr[4], GREY_D, 0.8, true, true, 2));
  option.series.push(line('EPP bound', arr[5], GREY_D, 0.8, true, true, 2));

  if (isPrev) {
    const pts = [];
    arr[7].forEach(([yr, vals]) => vals.forEach((v, k) => pts.push({value:[yr, v], itemStyle:{color:PAL[(k + Math.round(yr)) % PAL.length]}})));
    option.series.push({type:'scatter', name:'survey', xAxisIndex:i, yAxisIndex:i, data:pts, symbolSize:2.2, silent:true, z:3});
  }

  // red dotted reference lines: survey cut-off year, and zero incidence
  option.series.push(line('cutoff', [[panelVline[i], yMin], [panelVline[i], yMax]], RED, 1, true, false, 7));
  if (!isPrev) option.series.push(line('zero', [[X_MIN, 0], [X_MAX, 0]], RED, 1, true, false, 7));

  option.series.push(line('EPP model', arr[1], BLACK, wMain, false, true, 4));
  option.series.push(line('R\u2212flex model', arr[0], BLUE, wMain, false, true, 5));
  if (isPrev) option.series.push(line('data average', arr[6], RED, 1, false, false, 6));
});

const chart = echarts.init(document.getElementById('c'), null, {renderer:'canvas'});
chart.setOption(option);
</script>
</body></html>
